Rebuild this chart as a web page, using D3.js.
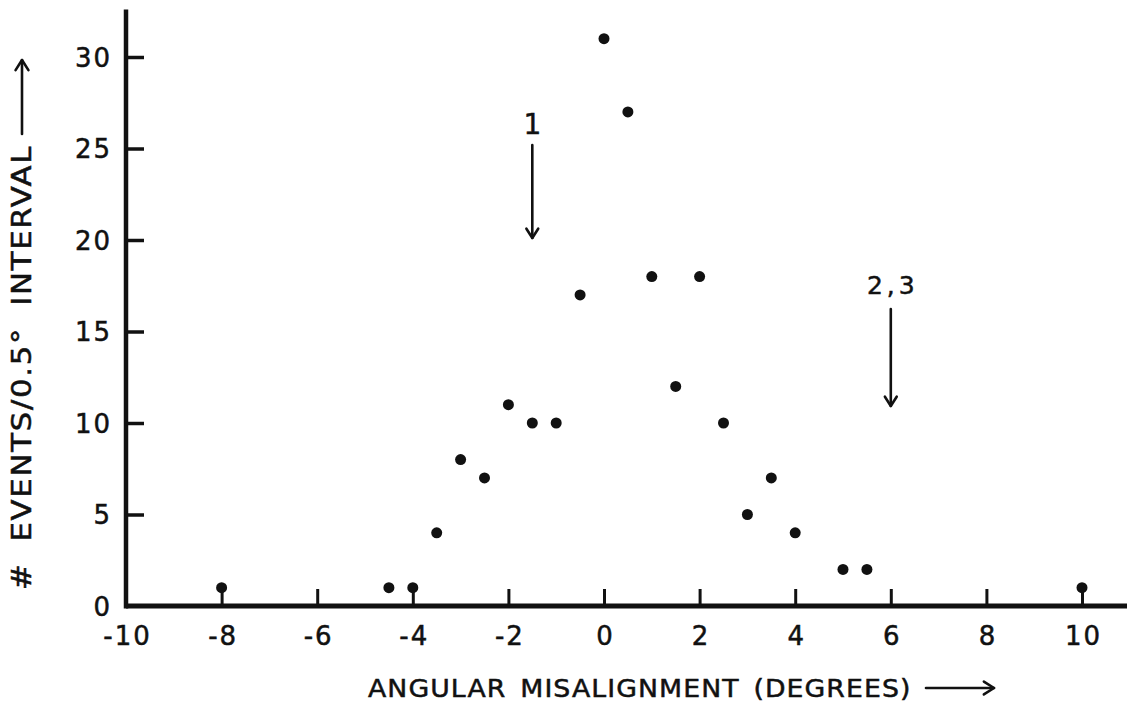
<!DOCTYPE html>
<html>
<head>
<meta charset="utf-8">
<script src="https://cdn.jsdelivr.net/npm/d3@7"></script>
<style>
  html, body { margin: 0; padding: 0; background: #fff; }
  svg { display: block; }
  text { font-family: "DejaVu Sans", sans-serif; fill: #111; stroke: #111; stroke-width: 0.5px; }
</style>
</head>
<body>
<svg id="chart" width="1127" height="705"></svg>
<script>
// ---- data ----
const angles = [-8, -4.5, -4, -3.5, -3, -2.5, -2, -1.5, -1, -0.5, 0, 0.5, 1, 1.5, 2, 2.5, 3, 3.5, 4, 5, 5.5, 10];
const counts = [1, 1, 1, 4, 8, 7, 11, 10, 10, 17, 31, 27, 18, 12, 18, 10, 5, 7, 4, 2, 2, 1];
const xTickValues = [-10, -8, -6, -4, -2, 0, 2, 4, 6, 8, 10];
const yTickValues = [0, 5, 10, 15, 20, 25, 30];
const markerAngles = [-1.5, 6];
const markerLabels = ["1", "2,3"];
const xTitle = "ANGULAR MISALIGNMENT (DEGREES)";
const yTitle = "# EVENTS/0.5° INTERVAL";

// ---- layout ----
const svg = d3.select("#chart");
const x = d3.scaleLinear().domain([-10, 10]).range([126, 1082]);
const y = d3.scaleLinear().domain([0, 30]).range([606, 57]);
const xMaxExtent = 10.95, yMaxExtent = 32.6;
const ink = "#111";

// axis lines
svg.append("line").attr("x1", x(-10)).attr("x2", x(xMaxExtent)).attr("y1", y(0)).attr("y2", y(0))
  .attr("stroke", ink).attr("stroke-width", 5);
svg.append("line").attr("x1", x(-10)).attr("x2", x(-10)).attr("y1", y(0) + 2.5).attr("y2", y(yMaxExtent))
  .attr("stroke", ink).attr("stroke-width", 4.5);

// x axis (ticks point up into the plot)
const xAxis = d3.axisBottom(x).tickValues(xTickValues).tickSizeInner(-17).tickSizeOuter(0)
  .tickPadding(0).tickFormat(d => String(d));
const gx = svg.append("g").attr("transform", `translate(0,${y(0)})`).call(xAxis);
gx.select(".domain").remove();
gx.selectAll(".tick line").attr("stroke", ink).attr("stroke-width", 3)
  .filter(d => d === -10).remove();
gx.selectAll(".tick text").attr("y", 39).attr("dy", 0).attr("dx", 1)
  .style("font-size", "26px").style("letter-spacing", "2px").attr("fill", ink);

// y axis (ticks point right into the plot)
const yAxis = d3.axisLeft(y).tickValues(yTickValues).tickSizeInner(-18).tickSizeOuter(0)
  .tickFormat(d => String(d));
const gy = svg.append("g").attr("transform", `translate(${x(-10)},0)`).call(yAxis);
gy.select(".domain").remove();
gy.selectAll(".tick line").attr("stroke", ink).attr("stroke-width", 3.5)
  .filter(d => d === 0).remove();
gy.selectAll(".tick text").attr("x", -14).attr("dy", "0.36em")
  .style("font-size", "26px").style("letter-spacing", "2px").attr("fill", ink);

// points
svg.append("g").selectAll("circle").data(angles.map((a, i) => [a, counts[i]])).join("circle")
  .attr("cx", d => x(d[0])).attr("cy", d => y(d[1])).attr("r", 5.5).attr("fill", ink);

// arrow helper
function arrow(x1, y1, x2, y2, head) {
  svg.append("line").attr("x1", x1).attr("y1", y1).attr("x2", x2).attr("y2", y2)
    .attr("stroke", ink).attr("stroke-width", 2.6).attr("stroke-linecap", "round");
  const ang = Math.atan2(y2 - y1, x2 - x1);
  const a1 = ang + Math.PI * 0.82, a2 = ang - Math.PI * 0.82;
  svg.append("path")
    .attr("d", `M${x2 + head * Math.cos(a1)},${y2 + head * Math.sin(a1)} L${x2},${y2} L${x2 + head * Math.cos(a2)},${y2 + head * Math.sin(a2)}`)
    .attr("fill", "none").attr("stroke", ink).attr("stroke-width", 2.6)
    .attr("stroke-linecap", "round").attr("stroke-linejoin", "round");
}

// markers
svg.append("text").attr("x", x(markerAngles[0])).attr("y", 134).attr("text-anchor", "middle")
  .style("font-size", "28px").text(markerLabels[0]);
arrow(x(markerAngles[0]), 145, x(markerAngles[0]), 238, 11);
svg.append("text").attr("x", x(markerAngles[1]) + 2).attr("y", 294).attr("text-anchor", "middle")
  .style("font-size", "25px").style("letter-spacing", "4px").text(markerLabels[1]);
arrow(x(markerAngles[1]), 309, x(markerAngles[1]), 406, 11);

// axis titles
svg.append("text").attr("transform", "translate(368,697) scale(1.07,1)")
  .style("font-size", "25px").style("letter-spacing", "1px").style("word-spacing", "4px")
  .text(xTitle);
arrow(926, 688, 994, 688, 12);

svg.append("text").attr("transform", "translate(31,590) rotate(-90) scale(1.18,1)")
  .style("font-size", "26px").style("letter-spacing", "1.5px").style("word-spacing", "8px")
  .text(yTitle);
arrow(22, 134, 22, 60, 12);
</script>
</body>
</html>
